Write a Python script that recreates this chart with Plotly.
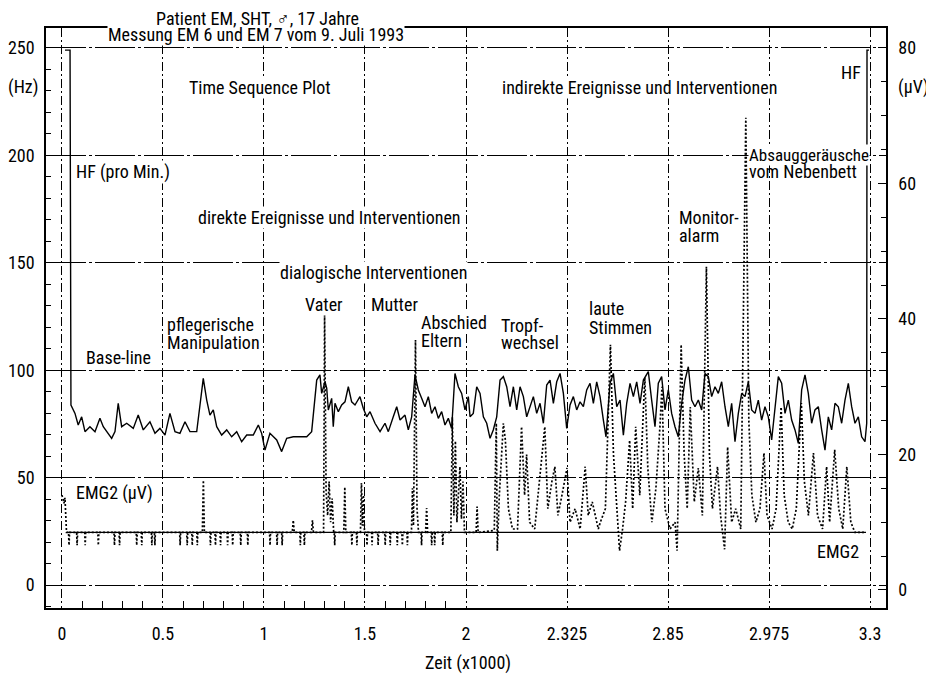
import plotly.graph_objects as go

# ---------------- data ----------------
# x positions are the equally spaced time-axis slots (slot i carries tick label time_labels[i])
time_slots = [0, 1, 2, 3, 4, 5, 6, 7, 8]
time_labels = ["0", "0.5", "1", "1.5", "2", "2.325", "2.85", "2.975", "3.3"]
minor_time_slots = [0.2, 0.4, 0.6, 0.8, 1.2, 1.4, 1.6, 1.8, 2.2, 2.4, 2.6, 2.8, 3.2, 3.4, 3.6, 3.8]

hf_ticks = [0, 50, 100, 150, 200, 250]
emg_ticks = [0, 20, 40, 60, 80]

# HF (heart rate, Hz axis) samples: (slot position, value)
hf_samples = [
    (0.03, 249), (0.08, 249), (0.089, 83.8), (0.096, 83.0), (0.129, 79.9), (0.161, 74.5),
    (0.195, 78.3), (0.228, 71.4), (0.277, 73.7), (0.327, 71.4), (0.376, 77.6), (0.409, 73.7),
    (0.458, 70.6), (0.492, 68.3), (0.525, 71.4), (0.557, 84.6), (0.591, 73.7), (0.641, 75.3),
    (0.706, 72.9), (0.755, 79.1), (0.805, 72.2), (0.871, 76.0), (0.921, 70.6), (0.970, 72.9),
    (1.020, 69.8), (1.069, 79.9), (1.119, 71.4), (1.168, 70.6), (1.218, 76.0), (1.267, 71.4),
    (1.334, 71.4), (1.366, 83.0), (1.399, 96.2), (1.433, 86.1), (1.465, 79.1), (1.498, 81.5),
    (1.532, 73.7), (1.581, 69.8), (1.631, 72.2), (1.680, 69.0), (1.730, 71.4), (1.779, 66.7),
    (1.829, 69.8), (1.894, 69.8), (1.944, 74.5), (1.977, 70.6), (2.010, 62.8), (2.059, 70.6),
    (2.126, 67.5), (2.175, 62.1), (2.225, 68.3), (2.290, 69.0), (2.356, 69.0), (2.423, 69.0),
    (2.472, 71.4), (2.505, 88.0), (2.522, 95.4), (2.554, 97.8), (2.571, 89.2), (2.604, 94.6),
    (2.621, 91.6), (2.637, 81.5), (2.670, 86.9), (2.686, 73.7), (2.703, 84.6), (2.736, 80.7),
    (2.769, 83.8), (2.802, 85.3), (2.835, 92.3), (2.868, 85.3), (2.901, 83.8), (2.950, 87.7),
    (2.983, 82.3), (3.017, 78.3), (3.050, 80.7), (3.099, 75.3), (3.149, 71.4), (3.198, 75.3),
    (3.231, 71.4), (3.280, 78.3), (3.314, 83.0), (3.347, 76.8), (3.396, 79.1), (3.429, 72.2),
    (3.462, 78.3), (3.495, 97.8), (3.528, 90.8), (3.561, 86.9), (3.594, 83.0), (3.627, 87.7),
    (3.660, 79.9), (3.693, 83.0), (3.726, 77.6), (3.759, 80.7), (3.792, 74.5), (3.825, 77.6),
    (3.858, 72.9), (3.891, 98.5), (3.924, 92.3), (3.957, 89.2), (3.990, 81.5), (4.023, 87.7),
    (4.040, 78.3), (4.072, 79.9), (4.106, 92.3), (4.139, 89.2), (4.172, 78.3), (4.205, 75.3),
    (4.238, 68.3), (4.270, 72.2), (4.304, 78.3), (4.337, 95.4), (4.370, 97.0), (4.403, 92.3),
    (4.436, 83.0), (4.469, 92.3), (4.502, 81.5), (4.535, 92.3), (4.568, 87.7), (4.601, 78.3),
    (4.634, 83.0), (4.667, 87.7), (4.700, 79.9), (4.733, 84.6), (4.766, 75.3), (4.799, 93.1),
    (4.832, 95.4), (4.865, 84.6), (4.898, 94.6), (4.931, 98.5), (4.964, 89.2), (4.997, 72.9),
    (5.030, 83.8), (5.063, 87.7), (5.096, 81.5), (5.129, 85.3), (5.162, 83.0), (5.195, 90.8),
    (5.228, 93.9), (5.261, 84.6), (5.294, 94.6), (5.327, 87.7), (5.360, 76.8), (5.386, 69.0),
    (5.426, 93.9), (5.459, 98.5), (5.492, 83.0), (5.525, 86.1), (5.558, 69.8), (5.591, 84.6),
    (5.624, 93.9), (5.657, 87.7), (5.690, 94.6), (5.723, 84.6), (5.756, 95.4), (5.805, 99.3),
    (5.838, 86.1), (5.871, 73.7), (5.904, 93.9), (5.937, 97.0), (5.970, 81.5), (6.003, 90.8),
    (6.036, 79.9), (6.069, 73.7), (6.102, 69.0), (6.135, 84.6), (6.168, 95.4), (6.201, 101.6),
    (6.234, 86.1), (6.267, 83.0), (6.300, 86.1), (6.333, 81.5), (6.366, 98.5), (6.399, 97.0),
    (6.432, 87.7), (6.465, 92.3), (6.498, 89.2), (6.531, 94.6), (6.564, 83.0), (6.597, 73.7),
    (6.630, 84.6), (6.663, 66.7), (6.696, 79.9), (6.729, 89.2), (6.762, 87.7), (6.795, 94.6),
    (6.828, 81.5), (6.861, 79.9), (6.894, 86.1), (6.927, 76.8), (6.960, 83.0), (6.993, 78.3),
    (7.026, 67.5), (7.059, 83.0), (7.092, 97.0), (7.125, 93.9), (7.158, 79.9), (7.191, 86.1),
    (7.224, 76.8), (7.257, 72.2), (7.290, 66.0), (7.323, 90.8), (7.356, 97.8), (7.389, 89.2),
    (7.422, 75.3), (7.455, 81.5), (7.488, 83.0), (7.521, 72.2), (7.554, 62.8), (7.587, 78.3),
    (7.620, 72.2), (7.653, 84.6), (7.686, 83.0), (7.719, 75.3), (7.752, 86.1), (7.785, 93.9),
    (7.818, 83.0), (7.851, 75.3), (7.884, 78.3), (7.917, 69.0), (7.950, 66.7), (7.967, 75.3),
    (7.970, 249), (7.99, 249),
]

# EMG2 (µV axis) samples: (slot position, value)
emg_samples = [
    (0.00, 14.0), (0.02, 12.8), (0.03, 13.6), (0.045, 8.5),
    (0.065, 8.5), (0.07, 6.6), (0.075, 8.5), (0.145, 8.5), (0.15, 6.6), (0.155, 8.5),
    (0.225, 8.5), (0.23, 6.6), (0.235, 8.5), (0.355, 8.5), (0.36, 6.6), (0.365, 8.5),
    (0.515, 8.5), (0.52, 6.6), (0.525, 8.5), (0.565, 8.5), (0.57, 6.6), (0.575, 8.5),
    (0.735, 8.5), (0.74, 6.6), (0.745, 8.5), (0.785, 8.5), (0.79, 6.6), (0.795, 8.5),
    (0.885, 8.5), (0.89, 6.6), (0.895, 8.5), (0.915, 8.5), (0.92, 6.6), (0.925, 8.5),
    (1.165, 8.5), (1.17, 6.6), (1.175, 8.5), (1.235, 8.5), (1.24, 6.6), (1.245, 8.5),
    (1.285, 8.5), (1.29, 6.6), (1.295, 8.5), (1.335, 8.5), (1.34, 6.6), (1.345, 8.5),
    (1.39, 8.5), (1.40, 16.2), (1.41, 8.5),
    (1.465, 8.5), (1.47, 6.6), (1.475, 8.5), (1.515, 8.5), (1.52, 6.6), (1.525, 8.5),
    (1.565, 8.5), (1.57, 6.6), (1.575, 8.5), (1.635, 8.5), (1.64, 6.6), (1.645, 8.5),
    (1.685, 8.5), (1.69, 6.6), (1.695, 8.5), (1.765, 8.5), (1.77, 6.6), (1.775, 8.5),
    (1.835, 8.5), (1.84, 6.6), (1.845, 8.5), (2.055, 8.5), (2.06, 6.6), (2.065, 8.5),
    (2.125, 8.5), (2.13, 6.6), (2.135, 8.5), (2.175, 8.5), (2.18, 6.6), (2.185, 8.5),
    (2.28, 8.5), (2.29, 10.3), (2.30, 8.5),
    (2.355, 8.5), (2.36, 6.6), (2.365, 8.5), (2.395, 8.5), (2.40, 6.6), (2.405, 8.5),
    (2.47, 8.5), (2.48, 10.3), (2.49, 8.5),
    (2.59, 8.5), (2.60, 40.6), (2.615, 14.5), (2.63, 11.0), (2.645, 16.0), (2.66, 10.0),
    (2.675, 13.5), (2.69, 8.5), (2.695, 8.5), (2.70, 6.6), (2.705, 8.5),
    (2.79, 8.5), (2.80, 15.2), (2.81, 8.5),
    (2.865, 8.5), (2.87, 6.6), (2.875, 8.5), (2.915, 8.5), (2.92, 6.6), (2.925, 8.5),
    (2.955, 8.5), (2.965, 15.8), (2.975, 9.5), (2.985, 14.0), (2.995, 8.5),
    (3.015, 8.5), (3.02, 6.6), (3.025, 8.5), (3.065, 8.5), (3.07, 6.6), (3.075, 8.5),
    (3.125, 8.5), (3.13, 6.6), (3.135, 8.5), (3.195, 8.5), (3.20, 6.6), (3.205, 8.5),
    (3.245, 8.5), (3.25, 6.6), (3.255, 8.5), (3.315, 8.5), (3.32, 6.6), (3.325, 8.5),
    (3.365, 8.5), (3.37, 6.6), (3.375, 8.5), (3.415, 8.5), (3.42, 6.6), (3.425, 8.5),
    (3.46, 8.5), (3.47, 15.0), (3.48, 9.5), (3.50, 36.9), (3.515, 12.0), (3.53, 8.5),
    (3.555, 8.5), (3.56, 6.6), (3.565, 8.5), (3.60, 8.5), (3.61, 12.1), (3.62, 8.5),
    (3.655, 8.5), (3.66, 6.6), (3.665, 8.5), (3.685, 8.5), (3.69, 6.6), (3.695, 8.5),
    (3.765, 8.5), (3.77, 6.6), (3.775, 8.5),
    (3.85, 8.5), (3.865, 25.5), (3.88, 11.0), (3.895, 22.0), (3.91, 10.0), (3.94, 18.2),
    (3.955, 10.5), (3.97, 16.0), (3.985, 8.5),
    (4.10, 8.5), (4.11, 12.3), (4.12, 8.5),
    (4.28, 8.8), (4.30, 24.6), (4.31, 5.8), (4.33, 14.0), (4.37, 24.6), (4.39, 22.1),
    (4.42, 12.0), (4.46, 9.0), (4.51, 9.0), (4.55, 24.1), (4.58, 14.0), (4.60, 20.0),
    (4.63, 10.0), (4.68, 9.0), (4.78, 24.1), (4.81, 12.0), (4.85, 16.0), (4.88, 18.2),
    (4.91, 11.0), (4.95, 14.0), (5.00, 18.0), (5.03, 10.0), (5.08, 12.0), (5.13, 9.0),
    (5.18, 18.2), (5.21, 11.0), (5.25, 13.0), (5.31, 9.0), (5.33, 10.0), (5.38, 12.0),
    (5.43, 36.2), (5.46, 20.0), (5.49, 12.0), (5.52, 5.8), (5.55, 9.0), (5.58, 13.0),
    (5.62, 22.1), (5.65, 12.0), (5.68, 24.1), (5.72, 14.0), (5.77, 31.4), (5.80, 18.0),
    (5.84, 10.0), (5.88, 15.0), (5.92, 24.1), (5.94, 30.0), (5.97, 12.0), (6.02, 9.0),
    (6.07, 10.0), (6.09, 5.8), (6.13, 36.2), (6.16, 20.0), (6.19, 12.0), (6.22, 27.0),
    (6.26, 13.0), (6.30, 18.0), (6.34, 11.0), (6.38, 47.7), (6.41, 20.0), (6.44, 12.0),
    (6.49, 18.2), (6.52, 11.0), (6.56, 6.0), (6.59, 21.1), (6.63, 10.0), (6.67, 12.0),
    (6.72, 9.0), (6.77, 69.7), (6.80, 25.0), (6.83, 14.0), (6.87, 10.0), (6.91, 12.0),
    (6.95, 20.2), (6.98, 11.0), (7.03, 9.0), (7.07, 12.0), (7.12, 27.0), (7.15, 14.0),
    (7.19, 10.0), (7.23, 9.0), (7.27, 12.0), (7.32, 27.6), (7.35, 16.0), (7.39, 11.0),
    (7.44, 20.2), (7.48, 11.0), (7.53, 9.0), (7.57, 18.2), (7.60, 10.0), (7.65, 20.7),
    (7.69, 12.0), (7.73, 9.0), (7.77, 18.2), (7.81, 10.0), (7.85, 8.5), (7.96, 8.5),
]

emg_base_level = 8.5
emg_base_span = [0.045, 7.96]

# text labels: (text, slot position, Hz value, anchor, white background)
plot_labels = [
    ("Time Sequence Plot", 1.96, 231.8, "center", True),
    ("indirekte Ereignisse und Interventionen", 5.72, 231.8, "center", True),
    ("HF", 7.92, 238.8, "right", True),
    ("HF (pro Min.)", 0.13, 192.3, "left", True),
    ("direkte Ereignisse und Interventionen", 2.65, 171.3, "center", True),
    ("Absauggeräusche", 6.79, 200.2, "left", True),
    ("vom Nebenbett", 6.79, 192.3, "left", False),
    ("Monitor-", 6.10, 171.3, "left", True),
    ("alarm", 6.10, 162.9, "left", False),
    ("dialogische Interventionen", 3.08, 145.3, "center", True),
    ("Vater", 2.59, 130.4, "center", True),
    ("Mutter", 3.05, 130.4, "left", True),
    ("pflegerische", 1.03, 121.5, "left", True),
    ("Manipulation", 1.03, 113.1, "left", False),
    ("Abschied", 3.54, 122.0, "left", True),
    ("Eltern", 3.54, 113.6, "left", False),
    ("Tropf-", 4.34, 121.0, "left", True),
    ("wechsel", 4.34, 112.7, "left", False),
    ("laute", 5.21, 128.5, "left", True),
    ("Stimmen", 5.21, 120.1, "left", False),
    ("Base-line", 0.23, 105.7, "left", True),
    ("EMG2 (µV)", 0.13, 42.8, "left", True),
    ("EMG2", 7.90, 15.8, "right", True),
]

title_lines = ["Patient EM, SHT, ♂, 17 Jahre", "Messung EM 6 und EM 7 vom 9. Juli 1993"]

# ---------------- figure ----------------
FONT = "Liberation Sans Narrow, Arial Narrow, Roboto Condensed, Liberation Sans, sans-serif"
FS = 18
hf_x = [p[0] for p in hf_samples]
hf_y = [p[1] for p in hf_samples]
emg_x = [p[0] for p in emg_samples]
emg_y = [p[1] for p in emg_samples]

fig = go.Figure()
fig.add_trace(go.Scatter(x=emg_base_span, y=[emg_base_level] * len(emg_base_span), yaxis="y2",
                         mode="lines", line=dict(color="black", width=1.2), showlegend=False,
                         hoverinfo="skip"))
fig.add_trace(go.Scatter(x=emg_x, y=emg_y, yaxis="y2", mode="lines", name="EMG2",
                         line=dict(color="black", width=1.7, dash="2px,2px"), showlegend=False))
fig.add_trace(go.Scatter(x=hf_x, y=hf_y, mode="lines", name="HF",
                         line=dict(color="black", width=1.4), showlegend=False))

ann = []
def add(text, x, y, xanchor="center", xref="x", yref="y", size=FS, bg="white"):
    ann.append(dict(text=text, x=x, y=y, xref=xref, yref=yref, xanchor=xanchor, yanchor="middle",
                    showarrow=False, font=dict(family=FONT, size=size, color="black"),
                    bgcolor=bg, borderpad=0))

# second title line first (its white box hides the frame), first line drawn on top of it
add(title_lines[1], 0.250, 0.988, xref="paper", yref="paper")
add(title_lines[0], 0.252, 1.017, xref="paper", yref="paper", bg="rgba(0,0,0,0)")
for txt, xs, yv, anc, white in plot_labels:
    add(txt, xs, yv, xanchor=anc, bg="white" if white else "rgba(0,0,0,0)",
        size=17 if txt == "Absauggeräusche" else FS)
add("(Hz)", -0.027, 0.898, xref="paper", yref="paper", bg="rgba(0,0,0,0)")
add("(µV)", 1.033, 0.898, xref="paper", yref="paper", bg="rgba(0,0,0,0)")
add("Zeit (x1000)", 0.502, -0.095, xref="paper", yref="paper", bg="rgba(0,0,0,0)")

# the page body adds an 8px offset, so the figure is 8px smaller to fit the 934x677 window
fig.update_layout(
    width=926, height=669,
    margin=dict(l=38, r=48, t=20, b=69),
    paper_bgcolor="white", plot_bgcolor="white",
    font=dict(family=FONT, size=FS, color="black"),
    annotations=ann,
    xaxis=dict(range=[-0.158, 8.158], tickmode="array", tickvals=time_slots, ticktext=time_labels,
               ticks="", showgrid=True, gridcolor="black", gridwidth=1, griddash="9px,3px,2px,3px",
               showline=True, linecolor="black", linewidth=1.5, mirror=True, zeroline=False,
               ticklabelstandoff=9, automargin=False,
               minor=dict(tickmode="array", tickvals=minor_time_slots, ticks="inside", ticklen=7,
                          tickcolor="black", tickwidth=1.2, showgrid=False)),
    yaxis=dict(range=[-10.7, 259.3], tickmode="array", tickvals=hf_ticks, ticks="inside",
               ticklen=8, tickcolor="black", tickwidth=1.2,
               showgrid=True, gridcolor="black", gridwidth=1, griddash="40px,3px,3px,3px",
               showline=True, linecolor="black", linewidth=1.5, zeroline=False,
               ticklabelstandoff=6, automargin=False,
               minor=dict(dtick=10, ticks="inside", ticklen=5, tickcolor="black", tickwidth=1.2,
                          showgrid=False)),
    yaxis2=dict(range=[-2.66, 82.95], overlaying="y", side="right", tickmode="array",
                tickvals=emg_ticks, ticks="inside", ticklen=8, tickcolor="black", tickwidth=1.2,
                showgrid=False, showline=True, linecolor="black", linewidth=1.5, zeroline=False,
                ticklabelstandoff=7, automargin=False,
                minor=dict(dtick=5, ticks="inside", ticklen=5, tickcolor="black", tickwidth=1.2)),
)

fig.write_html("out.html")
